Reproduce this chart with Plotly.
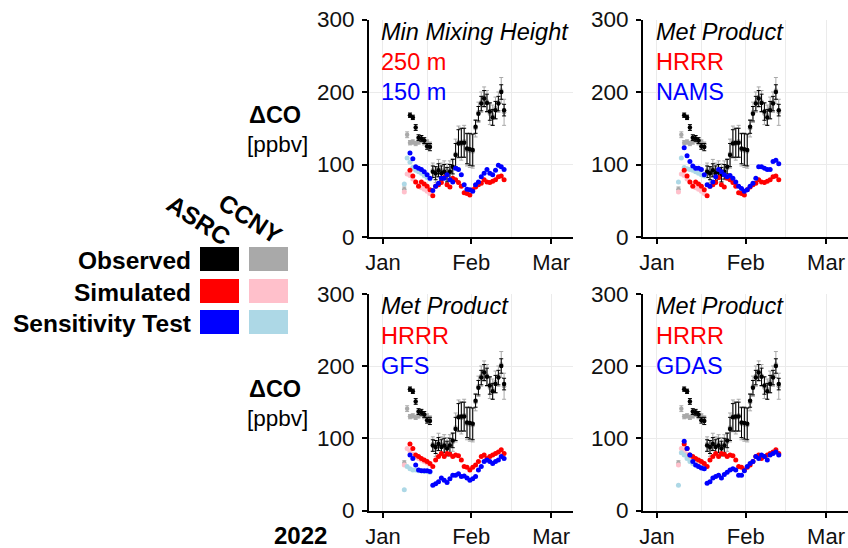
import plotly.graph_objects as go
import pandas as pd

# ---------------- data ----------------
asrc_dates = pd.date_range("2022-01-10 12:00", periods=34, freq="D")
ccny_obs_dates = pd.date_range("2022-01-08 12:00", periods=36, freq="D")
ccny_sim_dates = pd.date_range("2022-01-08 12:00", periods=10, freq="D")

asrc_obs = [168, 165, 151, 137, 136, 133, 125, 124,
            90, 88, 92, 88, 90, 86, 90, 97,
            113, 129, 130, 130, 122, 121, 120, 152,
            170, 184, 191, 185, 173, 165, 175, 184,
            200, 175]
asrc_obs_err = [3, 3, 4, 4, 4, 4, 4, 5,
                8, 9, 9, 10, 10, 10, 10, 10,
                16, 19, 20, 20, 21, 22, 22,
                9, 10, 10, 11, 12, 12, 11, 12, 10, 10, 8]

ccny_obs = [66, 141, 130, 131, 129, 131, 133, 130, 131, 128,
            92, 86, 95, 90, 93, 88, 92, 95,
            115, 131, 128, 132, 120, 119, 118, 150,
            172, 186, 193, 187, 170, 168, 178, 186,
            202, 172]
ccny_obs_err = [3, 4, 3, 3, 3, 3, 3, 3, 3, 3,
                10, 11, 12, 12, 12, 13, 13, 13,
                20, 22, 22, 22, 22, 23, 23,
                12, 14, 14, 14, 15, 15, 14, 15, 14, 18, 18]

# ASRC simulated (red) and sensitivity tests (blue)
sim_hrrr_top = [92, 84, 76, 70, 76, 73, 70, 65,
                57, 70, 72, 75, 82, 72, 69, 81,
                79, 75, 70, 61, 60, 58, 65, 69,
                72, 74, 79, 76, 75, 77, 79, 83,
                84, 79]
sens_150m = [116, 108, 97, 95, 93, 90, 86, 81,
             64, 70, 74, 81, 81, 86, 79, 76,
             95, 93, 86, 72, 66, 65, 63, 72,
             76, 83, 88, 93, 88, 86, 92, 99,
             97, 93]
sens_nams = [123, 112, 104, 98, 95, 95, 93, 86,
             72, 70, 76, 83, 93, 90, 86, 83,
             85, 81, 76, 70, 67, 63, 65, 70,
             74, 81, 97, 97, 95, 93, 93, 104,
             106, 101]
sim_hrrr_bottom = [92, 86, 77, 75, 72, 70, 68, 65,
                   61, 70, 75, 79, 75, 79, 78, 75,
                   77, 76, 70, 61, 60, 56, 60, 63,
                   68, 75, 77, 72, 75, 77, 79, 81,
                   84, 79]
sens_gfs = [77, 72, 63, 56, 55, 55, 55, 54,
            35, 37, 40, 45, 42, 39, 44, 49,
            49, 51, 47, 48, 45, 42, 44, 47,
            56, 61, 68, 70, 68, 65, 68, 70,
            75, 72]
sens_gdas = [96, 86, 77, 68, 63, 61, 59, 58,
             38, 40, 45, 47, 49, 45, 50, 53,
             56, 58, 56, 49, 49, 55, 61, 65,
             68, 75, 72, 77, 75, 70, 77, 79,
             81, 77]

# CCNY simulated (pink) and sensitivity (light blue)
ccny_sim_top = [62, 87, 85, 80, 76, 71, 68, 66, 63, 60]
ccny_sens_150m = [73, 109, 103, 96, 92, 90, 88, 85, 82, 80]
ccny_sens_nams = [76, 109, 96, 94, 93, 92, 90, 88, 86, 84]
ccny_sim_bottom = [63, 86, 82, 78, 74, 72, 70, 68, 66, 64]
ccny_sens_gfs = [29, 61, 58, 56, 56, 55, 55, 54, 54, 53]
ccny_sens_gdas = [35, 80, 77, 72, 68, 65, 63, 61, 60, 58]

panel_labels = [
    ("Min Mixing Height", "250 m", "150 m"),
    ("Met Product", "HRRR", "NAMS"),
    ("Met Product", "HRRR", "GFS"),
    ("Met Product", "HRRR", "GDAS"),
]
panel_series = [
    (sim_hrrr_top, sens_150m, ccny_sim_top, ccny_sens_150m),
    (sim_hrrr_top, sens_nams, ccny_sim_top, ccny_sens_nams),
    (sim_hrrr_bottom, sens_gfs, ccny_sim_bottom, ccny_sens_gfs),
    (sim_hrrr_bottom, sens_gdas, ccny_sim_bottom, ccny_sens_gdas),
]
y_ticks = [0, 100, 200, 300]
x_ticks = ["2022-01-01", "2022-02-01", "2022-03-01"]
x_tick_text = ["Jan", "Feb", "Mar"]
legend_rows = ["Observed", "Simulated", "Sensitivity Test"]
legend_cols = ["ASRC", "CCNY"]

# ---------------- styling ----------------
W, H = 848, 548
FONT = "Liberation Sans, Arial, Helvetica, sans-serif"
BLACK, GRAY = "#000000", "#A9A9A9"
RED, PINK = "#FF0000", "#FFC0CB"
BLUE, LBLUE = "#0000FF", "#ADD8E6"


def px(x):
    return x / W


def py(y):
    return 1 - y / H


fig = go.Figure()

x_domains = [(369, 573), (643, 848), (369, 573), (643, 848)]
y_domains = [(19.5, 237), (19.5, 237), (293.7, 510.6), (293.7, 510.6)]

for i in range(4):
    n = "" if i == 0 else str(i + 1)
    xa, ya = "x" + n, "y" + n
    sim, sens, csim, csens = panel_series[i]
    fig.add_trace(go.Scatter(
        x=ccny_obs_dates, y=ccny_obs, xaxis=xa, yaxis=ya, mode="markers",
        marker=dict(color=GRAY, size=4.5),
        error_y=dict(type="data", array=ccny_obs_err, color=GRAY, thickness=1, width=2)))
    fig.add_trace(go.Scatter(
        x=asrc_dates, y=asrc_obs, xaxis=xa, yaxis=ya, mode="markers",
        marker=dict(color=BLACK, size=4.5),
        error_y=dict(type="data", array=asrc_obs_err, color=BLACK, thickness=1, width=2)))
    fig.add_trace(go.Scatter(x=ccny_sim_dates, y=csim, xaxis=xa, yaxis=ya, mode="markers",
                             marker=dict(color=PINK, size=5)))
    fig.add_trace(go.Scatter(x=ccny_sim_dates, y=csens, xaxis=xa, yaxis=ya, mode="markers",
                             marker=dict(color=LBLUE, size=5)))
    fig.add_trace(go.Scatter(x=asrc_dates, y=sim, xaxis=xa, yaxis=ya, mode="markers",
                             marker=dict(color=RED, size=5)))
    fig.add_trace(go.Scatter(x=asrc_dates, y=sens, xaxis=xa, yaxis=ya, mode="markers",
                             marker=dict(color=BLUE, size=5)))

    x0, x1 = x_domains[i]
    y0, y1 = y_domains[i]
    fig.update_layout(**{
        "xaxis" + n: dict(
            domain=[px(x0), min(px(x1), 1.0)], anchor=ya, type="date", automargin=False,
            range=["2021-12-27 03:00", "2022-03-08 16:00"],
            tickmode="array", tickvals=x_ticks, ticktext=x_tick_text,
            showline=True, linecolor=BLACK, linewidth=2,
            ticks="outside", ticklen=5, tickwidth=2, tickcolor=BLACK,
            tickfont=dict(family=FONT, size=22, color="#111111"),
            ticklabeloverflow="allow",
            showgrid=True, gridcolor="#EBEBEB", gridwidth=1,
            minor=dict(tickmode="array", tickvals=["2022-01-16 12:00", "2022-02-15"],
                       showgrid=True, gridcolor="#EBEBEB", gridwidth=1, ticks=""),
            zeroline=False, fixedrange=True),
        "yaxis" + n: dict(
            domain=[py(y1), py(y0)], anchor=xa, range=[0, 300], automargin=False,
            tickmode="array", tickvals=y_ticks,
            showline=True, linecolor=BLACK, linewidth=2,
            ticks="outside", ticklen=5, tickwidth=2, tickcolor=BLACK,
            tickfont=dict(family=FONT, size=22.5, color="#111111"),
            ticklabelstandoff=3, ticklabeloverflow="allow",
            showgrid=True, gridcolor="#EBEBEB", gridwidth=1,
            zeroline=False, fixedrange=True),
    })

annotations = []
# panel texts
text_left = [379, 654, 379, 654]
text_top = [31, 31, 305, 305]
for i in range(4):
    head, l1, l2 = panel_labels[i]
    for k, (txt, col, ital) in enumerate([(head, BLACK, True), (l1, RED, False), (l2, BLUE, False)]):
        annotations.append(dict(
            x=px(text_left[i]), y=py(text_top[i] + 30 * k + 1), xref="paper", yref="paper",
            xanchor="left", yanchor="middle", showarrow=False,
            text=("<i>%s</i>" % txt) if ital else txt,
            font=dict(family=FONT, size=23.5, color=col)))

# y axis titles
for yc in (114, 388):
    annotations.append(dict(x=px(275), y=py(yc + 1), xref="paper", yref="paper", showarrow=False,
                            xanchor="center", yanchor="middle",
                            text="<b>ΔCO</b>", font=dict(family=FONT, size=23.5, color=BLACK)))
    annotations.append(dict(x=px(277), y=py(yc + 30), xref="paper", yref="paper", showarrow=False,
                            xanchor="center", yanchor="middle",
                            text="[ppbv]", font=dict(family=FONT, size=22.5, color=BLACK)))

# year label
annotations.append(dict(x=px(300.5), y=py(535.5), xref="paper", yref="paper", showarrow=False,
                        xanchor="center", yanchor="middle",
                        text="<b>2022</b>", font=dict(family=FONT, size=24, color=BLACK)))

# legend
row_y = [259, 291, 322]
for lbl, yc in zip(legend_rows, row_y):
    annotations.append(dict(x=px(193), y=py(yc + 1), xref="paper", yref="paper", showarrow=False,
                            xanchor="right", yanchor="middle", text="<b>%s</b>" % lbl,
                            font=dict(family=FONT, size=24.5, color=BLACK)))
for lbl, (xc, yc) in zip(legend_cols, [(199, 220), (250, 218)]):
    annotations.append(dict(x=px(xc), y=py(yc), xref="paper", yref="paper", showarrow=False,
                            xanchor="center", yanchor="middle",
                            textangle=33, text="<b>%s</b>" % lbl,
                            font=dict(family=FONT, size=24.5, color=BLACK)))

shapes = []
sw_cols = [(BLACK, GRAY), (RED, PINK), (BLUE, LBLUE)]
sw_y = [(247, 271), (279, 303), (310, 334)]
for (c1, c2), (ya0, ya1) in zip(sw_cols, sw_y):
    for col, (xa0, xa1) in zip((c1, c2), [(200, 239), (249, 288)]):
        shapes.append(dict(type="rect", xref="paper", yref="paper",
                           x0=px(xa0), x1=px(xa1), y0=py(ya1), y1=py(ya0),
                           fillcolor=col, line=dict(width=0)))

fig.update_layout(
    width=W, height=H, margin=dict(l=0, r=0, t=0, b=0, autoexpand=False),
    paper_bgcolor="white", plot_bgcolor="white", showlegend=False,
    annotations=annotations, shapes=shapes,
)

fig.write_html(
    "out.html",
    config={"displayModeBar": False, "staticPlot": True},
    post_script="document.body.style.margin='0';document.body.style.overflow='hidden';",
)
